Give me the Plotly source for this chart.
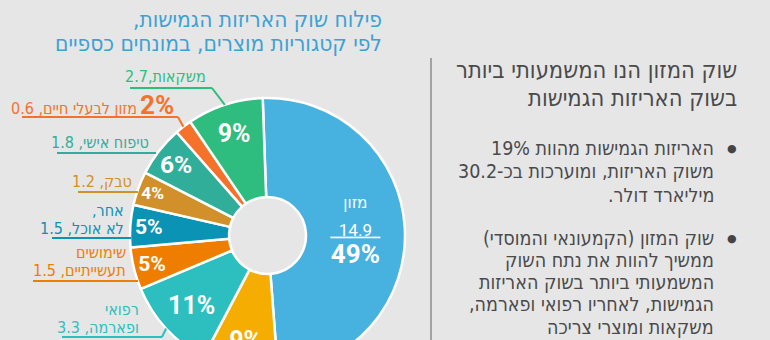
import math
import plotly.graph_objects as go

# ---------------- data ----------------
categories = ["מזון", "מוצרי צריכה", "רפואי ופארמה", "שימושים תעשייתיים",
              "אחר, לא אוכל", "טבק", "טיפוח אישי", "מזון לבעלי חיים", "משקאות"]
values = [14.9, 2.7, 3.3, 1.5, 1.5, 1.2, 1.8, 0.6, 2.7]
colors = ["#47b1df", "#f6ad02", "#2dbfbf", "#ef7e00", "#0a93b5",
          "#d2902a", "#31ae9a", "#f6722a", "#2ebc7f"]

title_lines = ["פילוח שוק האריזות הגמישות,", "לפי קטגוריות מוצרים, במונחים כספיים"]
heading_lines = ["שוק המזון הנו המשמעותי ביותר", "בשוק האריזות הגמישות"]
bullet1 = ["האריזות הגמישות מהוות 19%", "משוק האריזות, ומוערכות בכ-30.2", "מיליארד דולר."]
bullet2 = ["שוק המזון (הקמעונאי והמוסדי)", "ממשיך להוות את נתח השוק",
           "המשמעותי ביותר בשוק האריזות", "הגמישות, לאחריו רפואי ופארמה,",
           "משקאות ומוצרי צריכה"]

# ---------------- layout helpers ----------------
W, H = 770, 375
CX, CY, R = 267.5, 235.5, 137.5
HOLE = 0.28
ROT = -2
BG = "#e6e6e6"
HEB = "DejaVu Sans Condensed, DejaVu Sans, sans-serif"
NUM = "Roboto, DejaVu Sans Condensed, sans-serif"


def X(px):
    return px / W


def Y(py):
    return 1 - py / H


def rtl(s):
    return "\u202b" + s + "\u202c"


total = sum(values)


def mid_edge(i, r=R):
    start = sum(values[:i])
    ang = math.radians(ROT + (start + values[i] / 2) / total * 360)
    return CX + r * math.sin(ang), CY - r * math.cos(ang)


templates = []
sizes = []
for i, v in enumerate(values):
    if i == 0:
        templates.append("<span style='font-size:17px'>%{label}</span><br>"
                         "<span style='font-size:17px'><u>\u00a0\u00a0%{value}\u00a0\u00a0</u></span>"
                         "<br><b><span style='font-size:26px'>%{percent:.0%}</span></b>")
        sizes.append(21)
    elif v / total < 0.03:
        templates.append("")
        sizes.append(24)
    else:
        templates.append("<b>%{percent:.0%}</b>")
        sizes.append(25)

fig = go.Figure(go.Pie(
    labels=categories, values=values, sort=False, direction="clockwise",
    rotation=ROT, hole=HOLE,
    marker=dict(colors=colors, line=dict(color="white", width=2.5)),
    texttemplate=templates, textinfo="text", textposition="inside",
    insidetextorientation="horizontal",
    textfont=dict(color="white", size=sizes, family=NUM),
    showlegend=False, hoverinfo="skip",
    domain=dict(x=[X(CX - R), X(CX + R)], y=[Y(CY + R), Y(CY - R)]),
))

ann = []
shapes = []


def text(x, y, s, size, color, family=HEB, anchor="right"):
    ann.append(dict(x=X(x), y=Y(y), xref="paper", yref="paper", text=rtl(s),
                    showarrow=False, xanchor=anchor, yanchor="middle",
                    font=dict(size=size, color=color, family=family)))


def line(x0, y0, x1, y1, color, width=2):
    shapes.append(dict(type="line", xref="paper", yref="paper",
                       x0=X(x0), y0=Y(y0), x1=X(x1), y1=Y(y1),
                       line=dict(color=color, width=width)))


# title
TC = "#3ba2d5"
for k, s in enumerate(title_lines):
    text(384, 19 + k * 24, s, 22.5, TC)

# outside labels
LS = 16
c = colors[8]
text(208, 76, "משקאות,2.7", LS, c)
ex, ey = mid_edge(8)
line(130, 88, 212, 88, c)
line(212, 88, ex, ey, c)

c = colors[7]
ann.append(dict(x=X(176), y=Y(105), xref="paper", yref="paper", text="<b>2%</b>",
                showarrow=False, xanchor="right", yanchor="middle",
                font=dict(size=26, color=c, family=NUM)))
text(139, 108, "מזון לבעלי חיים, 0.6", LS, c)
ex, ey = mid_edge(7)
line(22, 117, 178, 117, c)
line(178, 117, ex, ey, c)

c = colors[6]
text(151, 142, "טיפוח אישי, 1.8", LS, c)
line(57, 153, 156, 153, c)

c = colors[5]
text(134, 181, "טבק, 1.2", LS, c)
line(78, 192, 138, 192, c)

c = colors[4]
text(126, 210, "אחר,", LS, c)
text(126, 228, "לא אוכל, 1.5", LS, c)
line(52, 238, 131, 238, c)

c = colors[3]
text(128, 252, "שימושים", LS, c)
text(128, 270, "תעשייתיים, 1.5", LS, c)
line(33, 281, 138, 281, c)

c = colors[2]
text(141, 309, "רפואי", LS, c)
text(141, 327, "ופארמה, 3.3", LS, c)
ex, ey = mid_edge(2)
line(62, 337, 162, 337, c)
line(162, 337, ex, ey, c)

# right panel
line(431, 58, 431, 375, "#a3a3a3", 2)
DC = "#4a4a4a"
for k, s in enumerate(heading_lines):
    text(739, 70 + k * 28, s, 23.5, DC)

for k, s in enumerate(bullet1):
    text(716, 148 + k * 23.5, s, 19.5, DC)
for k, s in enumerate(bullet2):
    text(716, 238 + k * 22.3, s, 19.5, DC)
for yb in (148, 238):
    ann.append(dict(x=X(732), y=Y(yb), xref="paper", yref="paper", text="●",
                    showarrow=False, xanchor="center", yanchor="middle",
                    font=dict(size=11, color="#444444", family="DejaVu Sans")))

fig.update_layout(
    width=W, height=H, margin=dict(l=0, r=0, t=0, b=0),
    paper_bgcolor=BG, plot_bgcolor=BG,
    annotations=ann, shapes=shapes,
)

fig.write_html("out.html", post_script="document.body.style.margin='0';"
               "document.body.style.overflow='hidden';"
               "document.documentElement.style.overflow='hidden';")
